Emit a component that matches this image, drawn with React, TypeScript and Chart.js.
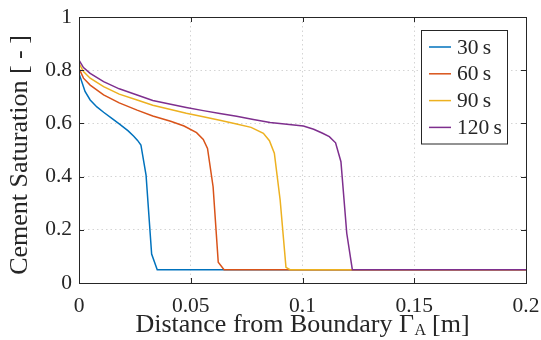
import React, { useEffect, useRef } from "react";
import { Chart, registerables } from "chart.js";

Chart.register(...registerables);

const seriesLabels = ["30\u2009s", "60\u2009s", "90\u2009s", "120\u2009s"];
const seriesColors = ["#0072BD", "#D95319", "#EDB120", "#7E2F8E"];

const x30 = [0, 0.0027, 0.005, 0.008, 0.011, 0.015, 0.018, 0.022, 0.0245, 0.0262, 0.0277, 0.030, 0.0325, 0.035, 0.2];
const y30 = [0.788, 0.72, 0.688, 0.662, 0.642, 0.617, 0.598, 0.572, 0.552, 0.536, 0.519, 0.406, 0.109, 0.05, 0.05];

const x60 = [0, 0.002, 0.005, 0.011, 0.018, 0.026, 0.033, 0.041, 0.047, 0.0526, 0.0556, 0.0575, 0.060, 0.0623, 0.0649, 0.2];
const y60 = [0.807, 0.77, 0.744, 0.707, 0.677, 0.65, 0.628, 0.608, 0.59, 0.565, 0.54, 0.506, 0.362, 0.078, 0.05, 0.05];

const x90 = [0, 0.002, 0.005, 0.011, 0.018, 0.026, 0.033, 0.041, 0.048, 0.0556, 0.063, 0.0705, 0.077, 0.0825, 0.0852, 0.0874, 0.090, 0.0926, 0.0944, 0.2];
const y90 = [0.826, 0.795, 0.77, 0.738, 0.71, 0.688, 0.668, 0.652, 0.638, 0.625, 0.612, 0.598, 0.585, 0.563, 0.535, 0.488, 0.312, 0.059, 0.05, 0.05];

const x120 = [0, 0.002, 0.005, 0.011, 0.018, 0.026, 0.033, 0.041, 0.048, 0.0556, 0.063, 0.0705, 0.078, 0.0855, 0.093, 0.1004, 0.105, 0.109, 0.112, 0.1148, 0.1172, 0.1198, 0.1223, 0.2];
const y120 = [0.838, 0.81, 0.788, 0.757, 0.73, 0.707, 0.686, 0.672, 0.66, 0.648, 0.637, 0.627, 0.615, 0.603, 0.597, 0.59, 0.578, 0.563, 0.55, 0.527, 0.456, 0.187, 0.05, 0.05];

const xTicks = [0, 0.05, 0.1, 0.15, 0.2];
const yTicks = [0, 0.2, 0.4, 0.6, 0.8, 1];

const xTitleMain = "Distance from Boundary \u0393";
const xTitleSub = "A";
const xTitleEnd = " [m]";
const yTitle = "Cement Saturation [ - ]";

const FONT_FAMILY = "Liberation Serif";
const FONT_SIZE = 21.5;
const TITLE_SIZE = 26;
const TEXT_COLOR = "#262626";

const xs = [x30, x60, x90, x120];
const ys = [y30, y60, y90, y120];

const framePlugin = {
  id: "matlabFrame",
  afterDraw(chart: any) {
    const { ctx, chartArea, scales } = chart;
    const { left, right, top, bottom } = chartArea;
    ctx.save();
    ctx.strokeStyle = TEXT_COLOR;
    ctx.lineWidth = 1;
    ctx.strokeRect(Math.round(left) + 0.5, Math.round(top) + 0.5, Math.round(right - left), Math.round(bottom - top));
    const tl = 5;
    ctx.beginPath();
    xTicks.forEach((v) => {
      const px = Math.round(scales.x.getPixelForValue(v)) + 0.5;
      ctx.moveTo(px, bottom);
      ctx.lineTo(px, bottom - tl);
      ctx.moveTo(px, top);
      ctx.lineTo(px, top + tl);
    });
    yTicks.forEach((v) => {
      const py = Math.round(scales.y.getPixelForValue(v)) + 0.5;
      ctx.moveTo(left, py);
      ctx.lineTo(left + tl, py);
      ctx.moveTo(right, py);
      ctx.lineTo(right - tl, py);
    });
    ctx.stroke();

    ctx.fillStyle = TEXT_COLOR;
    ctx.textBaseline = "alphabetic";
    ctx.textAlign = "left";
    const titleFont = `${TITLE_SIZE}px ${FONT_FAMILY}`;
    const subFont = `16px ${FONT_FAMILY}`;
    ctx.font = titleFont;
    const w1 = ctx.measureText(xTitleMain).width;
    const w3 = ctx.measureText(xTitleEnd).width;
    ctx.font = subFont;
    const w2 = ctx.measureText(xTitleSub).width;
    const total = w1 + w2 + w3;
    const cx = (left + right) / 2;
    const baseY = 332;
    const x0 = cx - total / 2;
    ctx.font = titleFont;
    ctx.fillText(xTitleMain, x0, baseY);
    ctx.font = subFont;
    ctx.fillText(xTitleSub, x0 + w1 + 0.5, baseY + 3);
    ctx.font = titleFont;
    ctx.fillText(xTitleEnd, x0 + w1 + w2, baseY);

    ctx.save();
    ctx.translate(27, (top + bottom) / 2 + 5);
    ctx.rotate(-Math.PI / 2);
    ctx.textAlign = "center";
    ctx.font = titleFont;
    ctx.fillText(yTitle, 0, 0);
    ctx.restore();

    const bx = 421.5, by = 30.5, bw = 86, bh = 113.5;
    ctx.fillStyle = "#ffffff";
    ctx.fillRect(bx, by, bw, bh);
    ctx.strokeStyle = TEXT_COLOR;
    ctx.lineWidth = 1;
    ctx.strokeRect(bx, by, bw, bh);
    ctx.font = `${FONT_SIZE}px ${FONT_FAMILY}`;
    ctx.textBaseline = "middle";
    ctx.textAlign = "left";
    seriesLabels.forEach((lab, i) => {
      const ry = 47 + i * 26.8;
      ctx.strokeStyle = seriesColors[i];
      ctx.lineWidth = 1.5;
      ctx.beginPath();
      ctx.moveTo(429, ry);
      ctx.lineTo(451, ry);
      ctx.stroke();
      ctx.fillStyle = TEXT_COLOR;
      ctx.fillText(lab, 457, ry + 1);
    });
    ctx.restore();
  },
};

export default function App() {
  const ref = useRef<HTMLCanvasElement | null>(null);
  useEffect(() => {
    if (!ref.current) return;
    const datasets = seriesLabels.map((lab, i) => ({
      label: lab,
      data: xs[i].map((xv, j) => ({ x: xv, y: ys[i][j] })),
      borderColor: seriesColors[i],
      backgroundColor: seriesColors[i],
      borderWidth: 1.5,
      pointRadius: 0,
      tension: 0,
      fill: false,
      order: seriesLabels.length - 1 - i,
    }));
    const tickFont = { family: FONT_FAMILY, size: FONT_SIZE };
    const chart = new Chart(ref.current, {
      type: "line",
      data: { datasets },
      plugins: [framePlugin],
      options: {
        animation: false,
        responsive: false,
        events: [],
        layout: { padding: { left: 0, right: 15, top: 17, bottom: 0 } },
        plugins: { legend: { display: false }, tooltip: { enabled: false } },
        scales: {
          x: {
            type: "linear",
            min: 0,
            max: 0.2,
            afterBuildTicks: (s: any) => {
              s.ticks = xTicks.map((v) => ({ value: v }));
            },
            afterFit: (s: any) => {
              s.height = 57;
              s.paddingLeft = 0;
              s.paddingRight = 0;
            },
            ticks: {
              autoSkip: false,
              maxRotation: 0,
              padding: 10,
              color: TEXT_COLOR,
              font: tickFont,
              callback: (v: any) => String(v),
            },
            grid: { color: "#d4d4d4", lineWidth: 1, drawTicks: false },
            border: { display: false, dash: [1.5, 3] },
          },
          y: {
            type: "linear",
            min: 0,
            max: 1,
            afterBuildTicks: (s: any) => {
              s.ticks = yTicks.map((v) => ({ value: v }));
            },
            afterFit: (s: any) => {
              s.width = 79;
              s.paddingTop = 0;
              s.paddingBottom = 0;
            },
            ticks: {
              autoSkip: false,
              padding: 7,
              color: TEXT_COLOR,
              font: tickFont,
              callback: (v: any) => String(v),
            },
            grid: { color: "#d4d4d4", lineWidth: 1, drawTicks: false },
            border: { display: false, dash: [1.5, 3] },
          },
        },
      } as any,
    });
    return () => chart.destroy();
  }, []);
  return (
    <div style={{ position: "absolute", left: 0, top: 0, width: 541, height: 340, background: "#fff" }}>
      <canvas ref={ref} width={541} height={340} style={{ display: "block" }} />
    </div>
  );
}
